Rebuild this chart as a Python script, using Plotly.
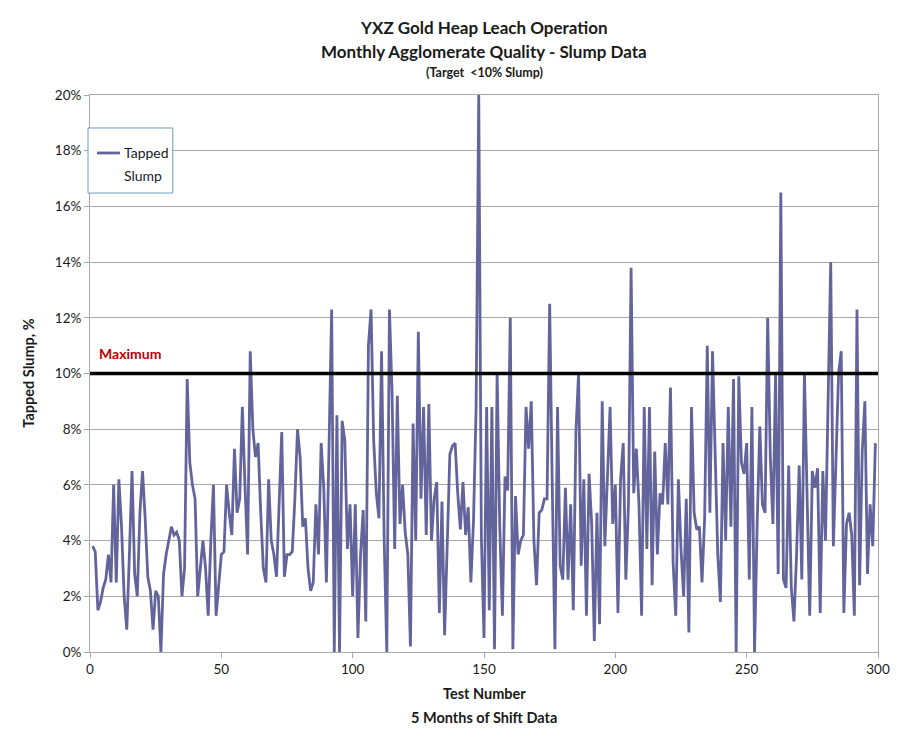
import plotly.graph_objects as go

# Tapped slump (%) per test
slump = [
    3.8, 3.6, 1.5, 1.8, 2.3, 2.6, 3.5, 2.5, 6.0, 2.5,
    6.2, 4.5, 2.0, 0.8, 3.5, 6.5, 2.8, 2.0, 5.0, 6.5,
    4.8, 2.7, 2.2, 0.8, 2.2, 2.0, 0.0, 2.8, 3.5, 4.0,
    4.5, 4.2, 4.3, 4.0, 2.0, 3.0, 9.8, 6.8, 6.0, 5.5,
    2.0, 3.0, 4.0, 3.0, 1.3, 4.0, 6.0, 1.3, 2.5, 3.5,
    3.6, 6.0, 5.0, 4.2, 7.3, 5.0, 5.5, 8.8, 6.0, 3.5,
    10.8, 8.0, 7.0, 7.5, 5.0, 3.0, 2.5, 6.2, 4.0, 3.5,
    2.7, 5.0, 7.9, 2.7, 3.5, 3.5, 3.6, 5.5, 8.0, 7.0,
    4.5, 4.8, 3.0, 2.2, 2.5, 5.3, 3.5, 7.5, 5.9, 2.5,
    7.0, 12.3, 0.0, 8.5, 0.0, 8.3, 7.6, 3.7, 5.3, 2.0,
    5.3, 0.5, 3.5, 5.1, 1.1, 11.0, 12.3, 7.6, 5.7, 4.8,
    10.8, 4.0, 0.0, 12.3, 9.3, 3.7, 9.2, 4.6, 6.0, 4.3,
    3.5, 0.2, 8.2, 4.0, 11.5, 5.5, 8.8, 4.2, 8.9, 4.0,
    5.5, 6.1, 1.4, 5.4, 0.6, 3.7, 7.1, 7.4, 7.5, 5.7,
    4.4, 6.1, 4.2, 5.2, 2.5, 4.7, 8.8, 20.0, 4.1, 0.5,
    8.8, 1.5, 8.8, 0.1, 10.0, 4.5, 1.3, 6.3, 5.8, 12.0,
    0.1, 5.6, 3.5, 4.0, 4.2, 8.8, 7.3, 9.0, 4.0, 2.4,
    5.0, 5.1, 5.5, 5.5, 12.5, 5.9, 0.1, 8.8, 3.1, 2.6,
    5.9, 2.6, 5.3, 1.5, 7.9, 10.0, 3.1, 6.2, 1.3, 6.4,
    4.6, 0.4, 5.0, 1.0, 9.0, 3.8, 6.4, 8.8, 4.6, 6.0,
    1.4, 6.2, 7.5, 2.6, 5.3, 13.8, 5.7, 7.3, 5.3, 1.3,
    8.8, 3.7, 8.8, 2.4, 7.2, 3.5, 5.7, 5.3, 7.5, 5.3,
    9.5, 3.2, 1.3, 6.2, 3.7, 2.0, 5.5, 0.7, 8.8, 5.0,
    4.4, 4.5, 2.5, 4.8, 11.0, 5.0, 10.8, 7.5, 3.5, 1.8,
    7.5, 4.0, 8.8, 4.5, 9.8, 0.0, 9.9, 6.8, 6.4, 7.5,
    2.6, 8.8, 0.0, 4.6, 8.1, 5.3, 5.0, 12.0, 7.0, 4.6,
    10.0, 2.8, 16.5, 2.6, 2.3, 6.7, 2.3, 1.1, 3.5, 6.7,
    2.6, 10.0, 5.3, 1.3, 6.5, 5.9, 6.6, 1.4, 6.5, 4.0,
    9.0, 14.0, 3.8, 6.8, 10.0, 10.8, 1.4, 4.6, 5.0, 4.2,
    1.3, 12.3, 2.4, 7.2, 9.0, 2.8, 5.3, 3.8, 7.5,
]
tests = list(range(1, len(slump) + 1))

maximum = 10
x_ticks = [0, 50, 100, 150, 200, 250, 300]
y_ticks = [0, 2, 4, 6, 8, 10, 12, 14, 16, 18, 20]
y_labels = [f"{v}%" for v in y_ticks]
series_name = ["Tapped", "Slump"]

FONT = "Lato, 'Open Sans', sans-serif"
GRID = "#a8a8a8"
TXT = "#1a1a1a"
SERIES = "#64649c"

fig = go.Figure()
fig.add_trace(go.Scatter(
    x=tests, y=slump, mode="lines", name=" ".join(series_name),
    line=dict(color=SERIES, width=2.8), showlegend=False,
))

shapes = [
    dict(type="line", xref="x", yref="y", x0=0, x1=300, y0=maximum, y1=maximum,
         line=dict(color="black", width=3.5)),
    # legend frame and key
    dict(type="rect", xref="paper", yref="paper", x0=-0.0025, x1=0.105,
         y0=0.824, y1=0.9408, line=dict(color="#6f9bbb", width=1),
         fillcolor="white"),
    dict(type="line", xref="paper", yref="paper", x0=0.0089, x1=0.038,
         y0=0.8959, y1=0.8959, line=dict(color=SERIES, width=2.8)),
    # outer chart border on the right
    dict(type="line", xref="paper", yref="paper", x0=1.0228, x1=1.0228,
         y0=-0.16, y1=1.18, line=dict(color="#9a9a9a", width=1)),
]

annotations = [
    dict(x=0.5, y=1.1203, xref="paper", yref="paper", showarrow=False,
         text="<b>YXZ Gold Heap Leach Operation</b>", yanchor="middle",
         font=dict(size=17, color=TXT, family=FONT)),
    dict(x=0.5, y=1.0772, xref="paper", yref="paper", showarrow=False,
         text="<b>Monthly Agglomerate Quality - Slump Data</b>", yanchor="middle",
         font=dict(size=17, color=TXT, family=FONT)),
    dict(x=0.5, y=1.0395, xref="paper", yref="paper", showarrow=False,
         text="<b>(Target  &lt;10% Slump)</b>", yanchor="middle",
         font=dict(size=12.5, color=TXT, family=FONT)),
    dict(x=0.5, y=-0.0754, xref="paper", yref="paper", showarrow=False,
         text="<b>Test Number</b>", yanchor="middle",
         font=dict(size=14.5, color=TXT, family=FONT)),
    dict(x=0.5, y=-0.1167, xref="paper", yref="paper", showarrow=False,
         text="<b>5 Months of Shift Data</b>", yanchor="middle",
         font=dict(size=14.5, color=TXT, family=FONT)),
    dict(x=-0.0785, y=0.5, xref="paper", yref="paper", showarrow=False,
         text="<b>Tapped Slump, %</b>", textangle=-90, xanchor="center",
         yanchor="middle", font=dict(size=14.5, color=TXT, family=FONT)),
    dict(x=2.5, y=maximum, xref="x", yref="y", text="<b>Maximum</b>",
         showarrow=False, xanchor="left", yanchor="middle", yshift=20,
         font=dict(color="#c00000", size=14, family=FONT)),
    # legend text
    dict(x=0.041, y=0.8959, xref="paper", yref="paper", showarrow=False,
         text=series_name[0], xanchor="left", yanchor="middle",
         font=dict(size=14, color=TXT, family=FONT)),
    dict(x=0.041, y=0.8546, xref="paper", yref="paper", showarrow=False,
         text=series_name[1], xanchor="left", yanchor="middle",
         font=dict(size=14, color=TXT, family=FONT)),
]

fig.update_layout(
    width=894, height=722,
    margin=dict(l=82, r=22, t=87, b=78),
    paper_bgcolor="white", plot_bgcolor="white",
    font=dict(family=FONT, color=TXT),
    showlegend=False,
    shapes=shapes,
    annotations=annotations,
    xaxis=dict(
        range=[0, 300], tickvals=x_ticks, showgrid=False,
        showline=True, linecolor=GRID, linewidth=1, mirror=True,
        ticks="outside", ticklen=5, tickcolor=GRID,
        tickfont=dict(size=13.5, color=TXT),
        zeroline=False,
    ),
    yaxis=dict(
        range=[0, 20], tickvals=y_ticks, ticktext=y_labels,
        showgrid=True, gridcolor=GRID, gridwidth=1,
        showline=True, linecolor=GRID, linewidth=1, mirror=True,
        ticks="outside", ticklen=5, tickcolor=GRID,
        tickfont=dict(size=13.5, color=TXT),
        zeroline=False,
    ),
)

fig.write_html("out.html")
